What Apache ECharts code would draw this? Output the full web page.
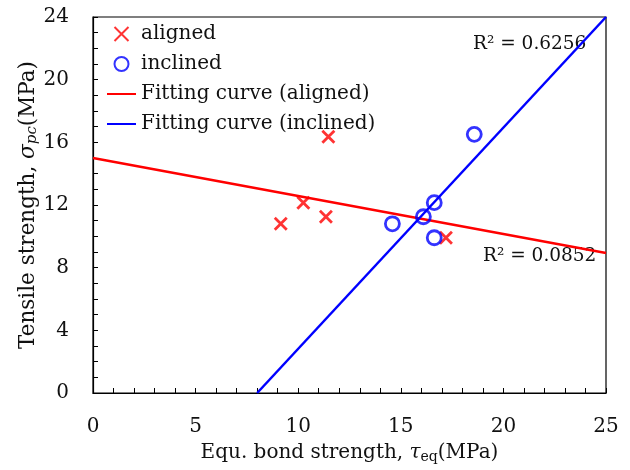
<!DOCTYPE html>
<html><head><meta charset="utf-8">
<script src="https://cdn.jsdelivr.net/npm/echarts@6/dist/echarts.min.js"></script>
<style>html,body{margin:0;padding:0;background:#fff}#c{width:630px;height:470px}</style>
</head><body><div id="c"></div>
<script>
var alignedX = [9.15, 10.25, 11.35, 11.47, 17.2];
var alignedY = [10.80, 12.14, 11.25, 16.36, 9.91];
var inclinedX = [14.59, 16.10, 16.63, 16.63, 18.58];
var inclinedY = [10.80, 11.25, 12.15, 9.91, 16.51];
var fitAlignedX = [0, 25];
var fitAlignedY = [15.0, 8.93];
var fitInclinedX = [8.0, 25];
var fitInclinedY = [0, 24];
var r2Labels = ['R² = 0.6256', 'R² = 0.0852'];
var seriesNames = ['aligned', 'inclined', 'Fitting curve (aligned)', 'Fitting curve (inclined)'];

function zip(a, b) { return a.map(function (v, i) { return [v, b[i]]; }); }
var FONT = 'DejaVu Serif';
var FS = 20;
var cross = 'path://M0,0L10,10M10,0L0,10';

var chart = echarts.init(document.getElementById('c'), null, {renderer: 'canvas'});
chart.setOption({
  animation: false,
  backgroundColor: '#fff',
  grid: {left: 93, right: 24, top: 17, bottom: 77, show: true, borderColor: '#000', borderWidth: 1.2, backgroundColor: 'transparent'},
  legend: {
    orient: 'vertical', left: 106, top: 24, padding: 0, itemWidth: 29, itemHeight: 14, itemGap: 10,
    textStyle: {fontFamily: FONT, fontSize: FS, color: '#111'},
    data: [
      {name: seriesNames[0]},
      {name: seriesNames[1]},
      {name: seriesNames[2], itemStyle: {opacity: 0}},
      {name: seriesNames[3], itemStyle: {opacity: 0}}
    ]
  },
  xAxis: {
    type: 'value', min: 0, max: 25, interval: 5,
    name: '{a|Equ. bond strength, }{g|τ}{s|eq}{a|(MPa)}',
    nameLocation: 'middle', nameGap: 48, nameMoveOverlap: false,
    nameTextStyle: {rich: {
      a: {fontFamily: FONT, fontSize: FS, color: '#111'},
      g: {fontFamily: FONT, fontSize: FS, color: '#111', fontStyle: 'italic'},
      s: {fontFamily: FONT, fontSize: 14, color: '#111', padding: [9, 0, 0, 0]}
    }},
    axisLine: {lineStyle: {color: '#000', width: 1.2}},
    axisTick: {inside: true, length: 5, lineStyle: {color: '#000'}},
    minorTick: {show: true, splitNumber: 5, length: 5, lineStyle: {color: '#000'}},
    splitLine: {show: false},
    axisLabel: {fontFamily: FONT, fontSize: FS, color: '#111', margin: 24}
  },
  yAxis: {
    type: 'value', min: 0, max: 24, interval: 4,
    name: '{a|Tensile strength, }{g|σ}{s|pc}{a|(MPa)}',
    nameLocation: 'middle', nameGap: 53, nameRotate: 90, nameMoveOverlap: false,
    nameTextStyle: {rich: {
      a: {fontFamily: FONT, fontSize: 21.5, color: '#111'},
      g: {fontFamily: FONT, fontSize: 21.5, color: '#111', fontStyle: 'italic'},
      s: {fontFamily: FONT, fontSize: 15, color: '#111', fontStyle: 'italic', padding: [9, 0, 0, 0]}
    }},
    axisLine: {show: true, lineStyle: {color: '#000', width: 1.2}},
    axisTick: {show: true, inside: true, length: 5, lineStyle: {color: '#000'}},
    minorTick: {show: true, splitNumber: 4, length: 5, lineStyle: {color: '#000'}},
    splitLine: {show: false},
    axisLabel: {fontFamily: FONT, fontSize: FS, color: '#111', margin: 24}
  },
  graphic: [
    {type: 'text', left: 473, top: 35, style: {text: r2Labels[0], fontFamily: FONT, fontSize: 18.5, fill: '#111'}},
    {type: 'text', left: 483, top: 247, style: {text: r2Labels[1], fontFamily: FONT, fontSize: 18.5, fill: '#111'}}
  ],
  series: [
    {name: seriesNames[0], type: 'scatter', symbol: cross, symbolSize: 12,
     itemStyle: {color: 'none', borderColor: '#ff0000', borderWidth: 2.8},
     data: zip(alignedX, alignedY), z: 3},
    {name: seriesNames[1], type: 'scatter', symbol: 'circle', symbolSize: 14,
     itemStyle: {color: 'none', borderColor: '#0000ff', borderWidth: 2.8},
     data: zip(inclinedX, inclinedY), z: 3},
    {name: seriesNames[2], type: 'line', symbol: 'none', clip: true,
     lineStyle: {color: '#ff0000', width: 2.5}, itemStyle: {color: '#ff0000'},
     data: zip(fitAlignedX, fitAlignedY), z: 2},
    {name: seriesNames[3], type: 'line', symbol: 'none', clip: true,
     lineStyle: {color: '#0000ff', width: 2.5}, itemStyle: {color: '#0000ff'},
     data: zip(fitInclinedX, fitInclinedY), z: 2}
  ]
});
</script></body></html>
